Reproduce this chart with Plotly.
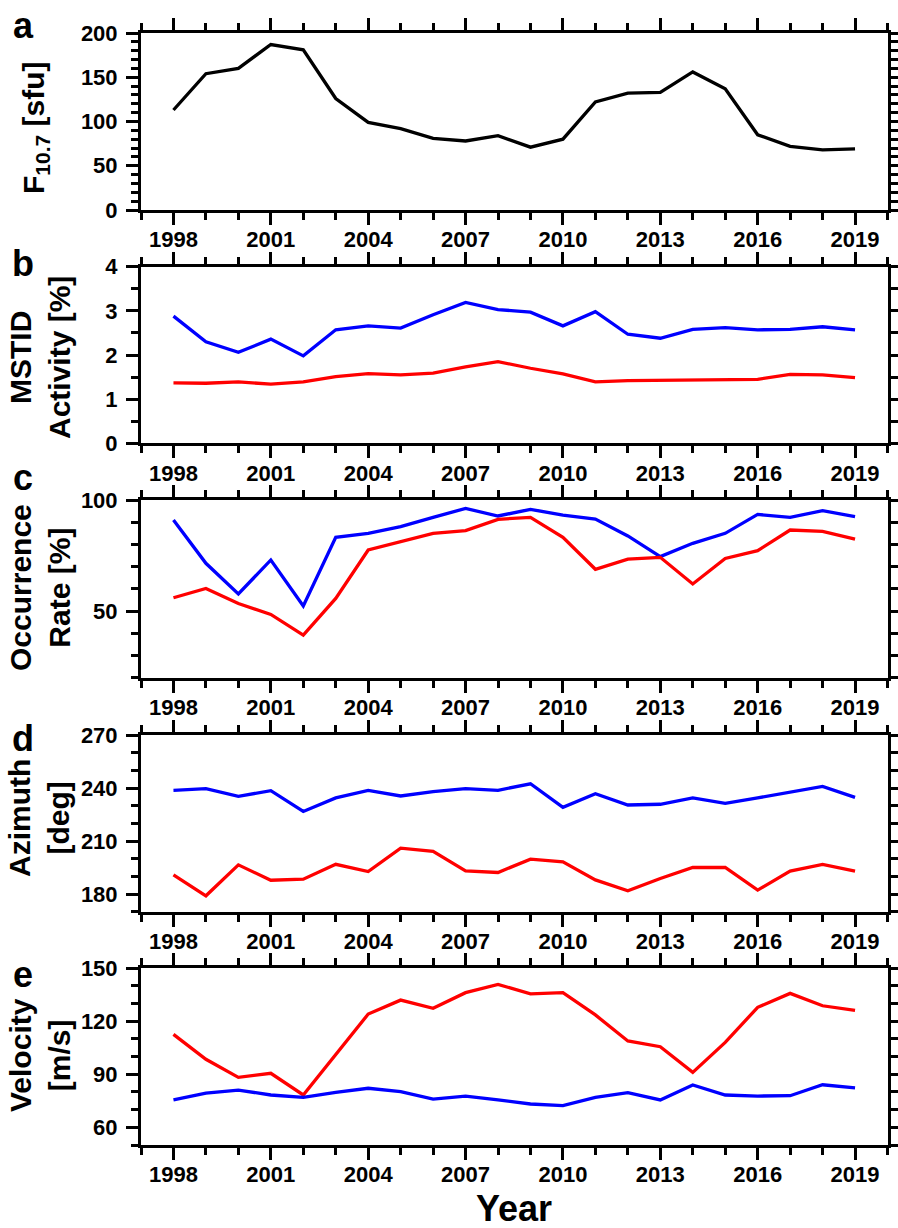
import plotly.graph_objects as go

years = list(range(1998, 2020))
f107 = [113, 154, 160, 187, 181, 126, 99, 92, 81, 78, 84, 71, 80, 122, 132, 133, 156, 137, 85, 72, 68, 69]
act_blue = [2.88, 2.30, 2.06, 2.36, 1.98, 2.57, 2.66, 2.61, 2.91, 3.19, 3.03, 2.97, 2.66, 2.98, 2.47, 2.38, 2.58, 2.62, 2.57, 2.58, 2.64, 2.57]
act_red = [1.37, 1.36, 1.39, 1.34, 1.39, 1.51, 1.58, 1.55, 1.59, 1.73, 1.85, 1.70, 1.57, 1.39, 1.42, 1.43, 1.43, 1.44, 1.45, 1.56, 1.55, 1.49]
occ_blue = [91, 71.5, 57.7, 73, 52.3, 83.2, 85, 88, 92.2, 96.2, 92.8, 95.8, 93.2, 91.4, 83.8, 74.5, 80.5, 85, 93.5, 92.2, 95.2, 92.5]
occ_red = [56, 60.2, 53.4, 48.5, 39.2, 55.7, 77.5, 81.2, 85, 86.2, 91.3, 92.2, 83.2, 68.8, 73.4, 74.2, 62.2, 73.7, 77.2, 86.5, 85.9, 82.4]
az_blue = [238.7, 239.6, 235.3, 238.5, 226.7, 234.4, 238.7, 235.5, 238, 239.6, 238.7, 242.4, 229.1, 236.8, 230.4, 230.8, 234.4, 231.3, 234.4, 237.5, 240.9, 234.7]
az_red = [190.8, 179, 196.5, 187.8, 188.4, 196.8, 192.7, 206, 204.2, 193.1, 192.2, 199.7, 198.2, 188, 181.8, 188.8, 195, 195, 182.2, 193, 196.8, 193]
vel_red = [112.6, 98.5, 88.3, 90.6, 78.3, 101, 124.1, 132, 127.4, 136.2, 140.9, 135.5, 136.2, 123.6, 108.9, 105.6, 91.1, 108.1, 127.9, 135.8, 128.8, 126.2]
vel_blue = [75.5, 79.3, 81.1, 78.3, 77, 79.8, 82.1, 80.2, 76, 77.7, 75.5, 73.2, 72.3, 77, 79.6, 75.5, 84, 78.3, 77.7, 77.9, 84.1, 82.3]

panel_letters = ["a", "b", "c", "d", "e"]
y_titles = ["F<sub>10.7</sub> [sfu]", "MSTID<br>Activity [%]", "Occurrence<br>Rate [%]",
            "Azimuth<br>[deg]", "Velocity<br>[m/s]"]

W, H = 898, 1228
OFF = 0  # page body margin removed below
FONT = "Liberation Sans"


def px_x(x):
    return (x - OFF) / W


def px_y(y):
    return 1 - (y - OFF) / H


# pixel geometry of panels in the screenshot (top, bottom)
panels_px = [(33, 210), (266.7, 443.3), (500, 677.7), (735, 911.7), (968.3, 1145)]
x_px = (141, 887.5)

yaxis_specs = [
    dict(range=[0, 200], tick0=0, dtick=50, minor_dtick=10),
    dict(range=[0, 4], tick0=0, dtick=1, minor_dtick=0.5),
    dict(range=[20, 100], tick0=0, dtick=50, minor_dtick=10),
    dict(range=[170, 270], tick0=180, dtick=30, minor_dtick=10),
    dict(range=[50, 150], tick0=60, dtick=30, minor_dtick=10),
]

series = [
    [(f107, "black")],
    [(act_blue, "blue"), (act_red, "red")],
    [(occ_blue, "blue"), (occ_red, "red")],
    [(az_blue, "blue"), (az_red, "red")],
    [(vel_red, "red"), (vel_blue, "blue")],
]

fig = go.Figure()
tickfont = dict(family=FONT, size=22, color="black", weight="bold")

for i in range(5):
    n = "" if i == 0 else str(i + 1)
    for vals, col in series[i]:
        fig.add_trace(go.Scatter(x=years, y=vals, mode="lines",
                                 line=dict(color=col, width=3.3),
                                 xaxis="x" + n, yaxis="y" + n, showlegend=False))
    top, bot = panels_px[i]
    spec = yaxis_specs[i]
    fig.layout["xaxis" + n] = dict(
        domain=[px_x(x_px[0]), px_x(x_px[1])], anchor="y" + n, range=[1997, 2020],
        tickmode="linear", tick0=1998, dtick=3, ticks="outside", ticklen=12, tickwidth=3,
        tickcolor="black", minor=dict(dtick=1, tick0=1997, ticks="outside", ticklen=7, tickwidth=3, tickcolor="black"),
        showline=True, linewidth=3, linecolor="black", mirror="ticks", ticklabelstandoff=-4,
        showgrid=False, zeroline=False, tickfont=tickfont, fixedrange=True)
    fig.layout["yaxis" + n] = dict(
        domain=[px_y(bot), px_y(top)], anchor="x" + n, range=spec["range"],
        tickmode="linear", tick0=spec["tick0"], dtick=spec["dtick"], ticks="outside", ticklen=12, tickwidth=3,
        tickcolor="black", minor=dict(dtick=spec["minor_dtick"], ticks="outside", ticklen=7, tickwidth=3, tickcolor="black"),
        showline=True, linewidth=3, linecolor="black", mirror="ticks", ticklabelstandoff=4,
        showgrid=False, zeroline=False, tickfont=tickfont, fixedrange=True)

annotations = []
letter_y = [25, 263, 478, 738, 974]
for i, letter in enumerate(panel_letters):
    annotations.append(dict(text=letter, x=px_x(23), y=px_y(letter_y[i]), xref="paper", yref="paper",
                            xanchor="center", yanchor="middle", showarrow=False,
                            font=dict(family=FONT, size=36, color="black", weight="bold")))

title_pos = [(35, 128), (40, 358), (40, 588), (39, 818), (40, 1055)]
for i, t in enumerate(y_titles):
    annotations.append(dict(text=t, x=px_x(title_pos[i][0]), y=px_y(title_pos[i][1]),
                            xref="paper", yref="paper", xanchor="center", yanchor="middle",
                            textangle=-90, showarrow=False,
                            font=dict(family=FONT, size=30, color="black", weight="bold")))

annotations.append(dict(text="Year", x=px_x(514), y=px_y(1208), xref="paper", yref="paper",
                        xanchor="center", yanchor="middle", showarrow=False,
                        font=dict(family=FONT, size=36, color="black", weight="bold")))

fig.update_layout(width=W, height=H, autosize=False,
                  margin=dict(l=0, r=0, t=0, b=0, pad=0, autoexpand=False),
                  paper_bgcolor="white", plot_bgcolor="white", annotations=annotations,
                  showlegend=False)

fig.write_html("out.html", config={"displayModeBar": False},
               post_script="document.body.style.margin='0px';")
